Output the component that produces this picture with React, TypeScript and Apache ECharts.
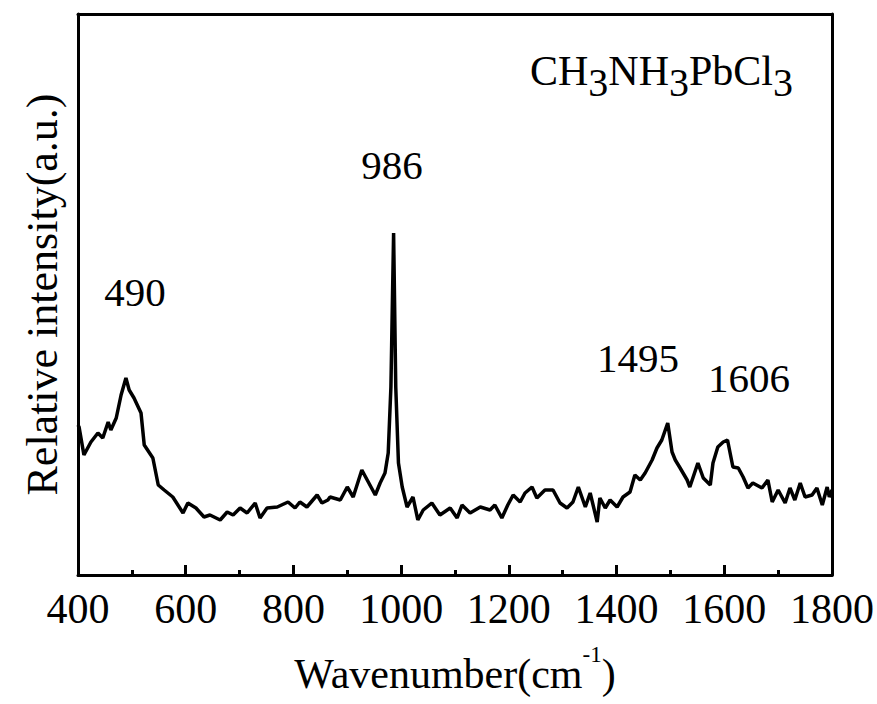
import React, { useEffect, useRef } from "react";
import * as echarts from "echarts";

// Raman spectrum: wavenumber (cm^-1) and relative intensity (a.u.)
const wavenumbers = [
  400, 402, 411, 424, 437, 446, 456, 461, 471, 480, 489, 495, 504, 517, 523, 539, 549, 560, 576,
  595, 604, 619, 634, 645, 664, 677, 688, 701, 714, 729, 738, 751, 770, 790, 803, 812, 825, 844,
  853, 864, 868, 887, 900, 911, 927, 937, 952, 961, 970, 976, 981, 986, 990, 995, 1002, 1011,
  1022, 1031, 1041, 1057, 1072, 1091, 1104, 1113, 1128, 1147, 1165, 1174, 1187, 1198, 1208, 1221,
  1230, 1243, 1252, 1267, 1282, 1295, 1308, 1319, 1329, 1342, 1351, 1364, 1369, 1379, 1388, 1401,
  1412, 1425, 1434, 1444, 1453, 1466, 1475, 1484, 1495, 1503, 1509, 1518, 1531, 1536, 1551, 1561,
  1574, 1579, 1588, 1598, 1606, 1616, 1626, 1635, 1644, 1653, 1670, 1681, 1689, 1700, 1713, 1722,
  1731, 1741, 1750, 1763, 1772, 1782, 1791, 1795, 1800,
];
const intensities = [
  150, 148, 120, 133, 142, 137, 153, 145, 157, 180, 197, 185, 177, 162, 130, 117, 90, 85, 78,
  62, 72, 67, 58, 60, 55, 63, 60, 67, 62, 72, 57, 67, 68, 73, 67, 73, 68, 80,
  72, 75, 78, 75, 88, 78, 105, 95, 80, 92, 102, 122, 188, 342, 188, 112, 88, 68,
  78, 55, 65, 72, 60, 67, 57, 70, 62, 68, 65, 70, 57, 70, 80, 73,
  82, 88, 77, 85, 85, 72, 67, 73, 88, 68, 82, 53, 77, 67, 75, 68,
  78, 83, 100, 95, 102, 115, 127, 135, 152, 123, 115, 107, 95, 88, 112, 97,
  90, 112, 128, 133, 135, 108, 107, 98, 87, 92, 87, 95, 73, 85, 72, 87,
  75, 92, 78, 80, 87, 70, 88, 78, 85,
];

// Peak annotations: label text and the position of the label's centre
const peakLabels = ["490", "986", "1495", "1606"];
const peakLabelX = [506, 983, 1440, 1646];
const peakLabelY = [283, 410, 217, 197];

const xTicks = { min: 400, max: 1800, interval: 200 };
const yRange = { min: 0, max: 561 };

const SERIF = "Liberation Serif";

export default function App() {
  const ref = useRef<HTMLDivElement>(null);

  useEffect(() => {
    document.body.style.margin = "0";
    if (!ref.current) return;
    const chart = echarts.init(ref.current, null, { renderer: "svg" });
    const lineData = wavenumbers.map((w, i) => [w, intensities[i]]);
    const labelData = peakLabels.map((t, i) => ({ name: t, value: [peakLabelX[i], peakLabelY[i]] }));

    chart.setOption({
      animation: false,
      backgroundColor: "#ffffff",
      textStyle: { fontFamily: SERIF },
      grid: { left: 78, right: 45, top: 14, bottom: 129, containLabel: false },
      xAxis: [
        {
          type: "value",
          min: xTicks.min,
          max: xTicks.max,
          interval: xTicks.interval,
          position: "bottom",
          axisLine: { show: true, onZero: false, lineStyle: { color: "#000", width: 3 } },
          axisTick: { show: true, inside: true, length: 10, lineStyle: { color: "#000", width: 3 } },
          minorTick: { show: true, splitNumber: 2, length: 5, lineStyle: { color: "#000", width: 3 } },
          splitLine: { show: false },
          axisLabel: {
            color: "#000",
            fontSize: 42,
            fontFamily: SERIF,
            margin: 13,
            formatter: (v: number) => String(v),
          },
          name: "{m|Wavenumber(cm}{s|-1}{m|)}",
          nameLocation: "middle",
          nameGap: 68,
          nameTextStyle: {
            fontFamily: SERIF,
            rich: {
              m: { fontSize: 42, fontFamily: SERIF, color: "#000" },
              s: { fontSize: 23, fontFamily: SERIF, color: "#000", padding: [0, 0, 38, 0] },
            },
          },
        },
        {
          type: "value",
          min: xTicks.min,
          max: xTicks.max,
          position: "top",
          axisLine: { show: true, onZero: false, lineStyle: { color: "#000", width: 3 } },
          axisTick: { show: false },
          axisLabel: { show: false },
          splitLine: { show: false },
        },
      ],
      yAxis: [
        {
          type: "value",
          min: yRange.min,
          max: yRange.max,
          position: "left",
          axisLine: { show: true, onZero: false, lineStyle: { color: "#000", width: 3 } },
          axisTick: { show: false },
          axisLabel: { show: false },
          splitLine: { show: false },
          name: "Relative intensity(a.u.)",
          nameLocation: "middle",
          nameGap: 14,
          nameTextStyle: { fontSize: 44, fontFamily: SERIF, color: "#000" },
        },
        {
          type: "value",
          min: yRange.min,
          max: yRange.max,
          position: "right",
          axisLine: { show: true, onZero: false, lineStyle: { color: "#000", width: 3 } },
          axisTick: { show: false },
          axisLabel: { show: false },
          splitLine: { show: false },
        },
      ],
      series: [
        {
          type: "line",
          data: lineData,
          showSymbol: false,
          symbol: "none",
          lineStyle: { color: "#000", width: 3.5 },
          silent: true,
        },
        {
          type: "scatter",
          data: labelData,
          symbolSize: 0,
          silent: true,
          itemStyle: { opacity: 1 },
          label: {
            show: true,
            position: "inside",
            formatter: "{b}",
            color: "#000",
            opacity: 1,
            fontSize: 41,
            fontFamily: SERIF,
          },
        },
      ],
      graphic: [
        {
          type: "text",
          right: 84,
          top: 50,
          style: {
            text: "{m|CH}{s|3}{m|NH}{s|3}{m|PbCl}{s|3}",
            rich: {
              m: { fontSize: 42, fontFamily: SERIF, fill: "#000" },
              s: { fontSize: 40, fontFamily: SERIF, fill: "#000", padding: [22, 0, 0, 0] },
            },
          },
        },
      ],
    });
    return () => chart.dispose();
  }, []);

  return <div ref={ref} style={{ width: 877, height: 704 }} />;
}
